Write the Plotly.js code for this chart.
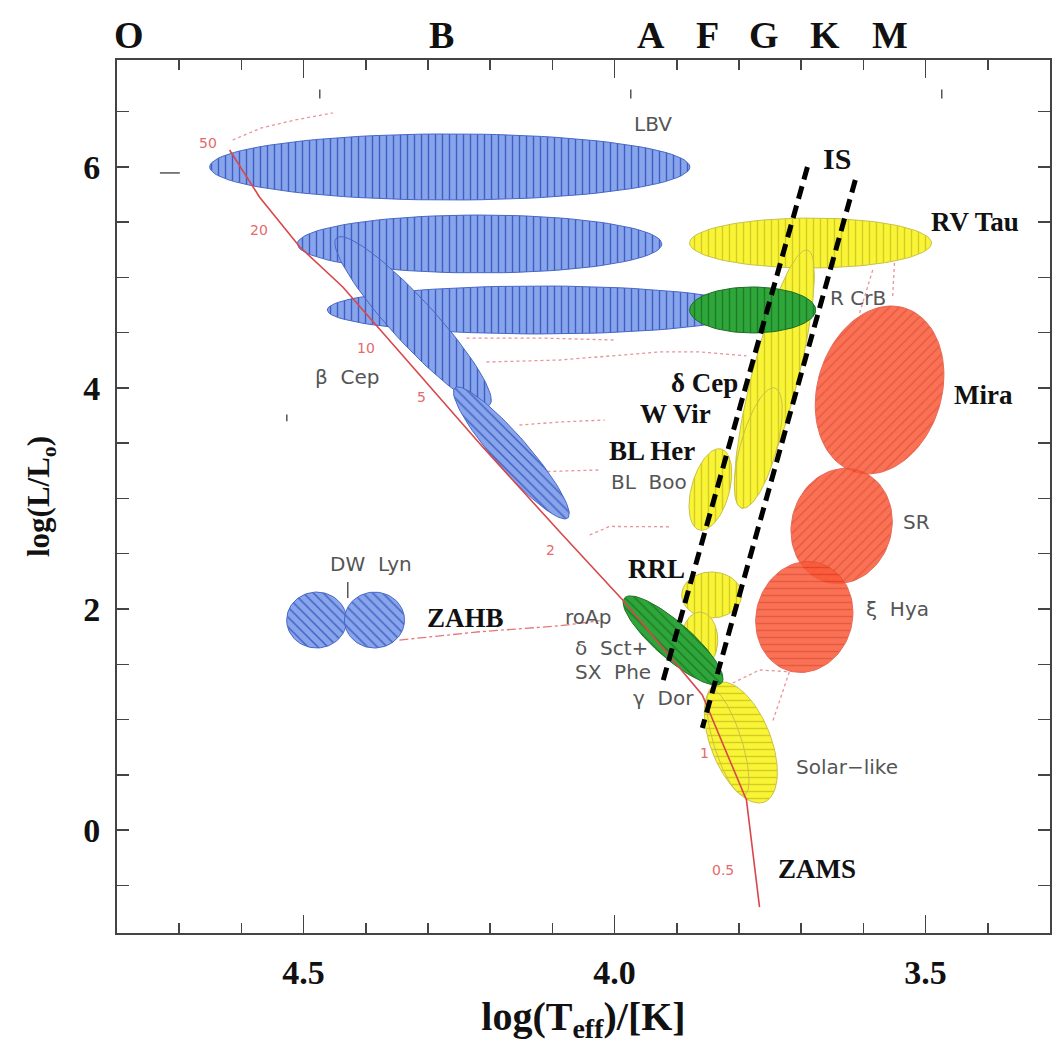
<!DOCTYPE html>
<html><head><meta charset="utf-8">
<script src="https://cdn.plot.ly/plotly-3.0.1.min.js"></script>
<style>html,body{margin:0;padding:0;background:#fff}</style>
</head><body>
<div id="chart" style="width:1064px;height:1044px"></div>
<script>
// ---------------- DATA ----------------
// Pulsating-star regions: centre (logTeff, logL) and two conjugate semi-axes in data units
const regionNames = ['LBV a','LBV b','LBV c','beta Cep','SPB','DW Lyn a','DW Lyn b','RV Tau','delta Cep','W Vir','BL Her','R CrB','RRL','delta Sct','Solar-like a','Solar-like b','roAp','Mira','SR','xi Hya'];
const regionGroup = ['blue','blue','blue','blue','blue','blue','blue','yellow','yellow','yellow','yellow','green','yellow','yellow','yellow','yellow','green','red','red','red'];
const regionT  = [4.265, 4.217, 4.121, 4.324, 4.166, 4.479, 4.386, 3.685, 3.743, 3.769, 3.846, 3.778, 3.844, 3.863, 3.797, 3.818, 3.906, 3.574, 3.635, 3.695];
const regionL  = [6.000, 5.303, 4.706, 4.602, 3.412, 1.900, 1.900, 5.312, 4.081, 3.457, 3.081, 4.706, 2.127, 1.719, 0.792, 0.792, 1.715, 3.982, 2.751, 1.928];
const regionAT = [0.386, 0.293, 0.341, -0.1230, -0.0908, 0.0482, 0.0482, 0.1945, -0.0531, -0.0265, -0.0177, 0.1013, 0.0482, 0.0289, -0.0378, -0.0265, -0.0780, -0.0402, -0.0257, -0.0241];
const regionAL = [0, 0, 0, -0.7557, -0.5882, 0, 0, 0, 1.1674, 0.543, 0.3665, 0, 0, 0, -0.5385, -0.475, -0.3846, 0.742, 0.5068, 0.4887];
const regionBT = [0, 0, 0, 0.0260, 0.0206, 0, 0, 0, -0.0359, -0.0280, -0.0294, 0, 0, 0, 0.0449, 0.0215, 0.0191, -0.0953, -0.0773, -0.0744];
const regionBL = [0.299, 0.262, 0.217, -0.1348, -0.1014, 0.253, 0.253, 0.226, -0.0516, -0.0434, -0.0452, 0.208, 0.208, 0.253, -0.0995, -0.038, -0.1222, -0.1638, -0.124, -0.1167];

// Zero-age main sequence
const zamsT = [4.619, 4.571, 4.506, 4.437, 4.212, 4.088, 3.987, 3.859, 3.788, 3.767];
const zamsL = [6.154, 5.729, 5.276, 4.914, 3.466, 2.697, 2.081, 1.222, 0.271, -0.697];

// Mass labels along the ZAMS
const massText = ['50','20','10','5','2','1','0.5'];
const massT = [4.654, 4.571, 4.399, 4.310, 4.103, 3.855, 3.826];
const massL = [6.217, 5.430, 4.362, 3.919, 2.534, 0.697, -0.362];

// Instability strip edges
const isBlueT = [3.690, 3.924];
const isBlueL = [6.000, 1.312];
const isRedT  = [3.613, 3.859];
const isRedL  = [5.882, 0.923];

// Evolutionary tracks (dotted)
const trackT = [
  [4.614, 4.568, 4.514, 4.453],
  [4.238, 4.118, 4.000],
  [4.206, 4.088, 3.928, 3.863, 3.788],
  [4.153, 4.088, 4.016],
  [4.137, 4.024],
  [4.040, 4.008, 3.912],
  [3.810, 3.767, 3.719, 3.746],
  [3.550, 3.553],
  [3.585, 3.606]
];
const trackL = [
  [6.244, 6.353, 6.425, 6.489],
  [4.452, 4.452, 4.434],
  [4.235, 4.253, 4.326, 4.326, 4.290],
  [3.665, 3.692, 3.710],
  [3.240, 3.258],
  [2.670, 2.747, 2.744],
  [1.330, 1.448, 1.432, 0.980],
  [5.131, 4.824],
  [5.068, 4.679]
];
// Zero-age horizontal branch
const zahbT = [4.346, 4.217, 4.088, 4.024];
const zahbL = [1.719, 1.794, 1.848, 1.894];

// Class labels
const boldText = ['IS','RV Tau','Mira','δ Cep','W Vir','BL Her','RRL','ZAHB','ZAMS'];
const boldT = [3.643, 3.494, 3.458, 3.799, 3.842, 3.867, 3.884, 4.305, 3.740];
const boldL = [6.081, 5.502, 3.937, 4.045, 3.765, 3.430, 2.362, 1.919, -0.353];
const boldAnchor = ['center','left','left','right','right','right','right','left','left'];

const thinText = ['LBV','β  Cep','R CrB','BL  Boo','SR','ξ  Hya','roAp','δ  Sct+','SX  Phe','γ  Dor','Solar−like','DW  Lyn'];
const thinT = [3.939, 4.431, 3.609, 3.944, 3.514, 3.545, 4.043, 4.005, 4.002, 3.921, 3.627, 4.391];
const thinL = [6.389, 4.100, 4.814, 3.149, 2.787, 2.000, 1.928, 1.647, 1.430, 1.195, 0.570, 2.407];

// Spectral classes along the top
const specText = ['O','B','A','F','G','K','M'];
const specT = [4.780, 4.278, 3.941, 3.850, 3.760, 3.662, 3.558];

// Small leftover tick marks of the inner frame
const markT = [4.474, 4.474, null, 3.974, 3.974, null, 3.474, 3.474, null, 4.527, 4.527, null, 4.731, 4.699, null, 4.429, 4.429];
const markL = [6.62, 6.70, null, 6.62, 6.70, null, 6.62, 6.70, null, 3.70, 3.76, null, 5.946, 5.946, null, 2.244, 2.100];

// ---------------- STYLE ----------------
const groupStyle = {
  blue:   {bg:'#88a4ea', fg:'#3d5ec4', line:'#4767c8', op:1},
  yellow: {bg:'#f9f536', fg:'#d4cc22', line:'#c9c04a', op:1},
  green:  {bg:'#2ea63a', fg:'#1d7a27', line:'#1f6d26', op:1},
  red:    {bg:'#fb5a38', fg:'#df3f28', line:'#e4503a', op:0.86}
};
const shapeFor = {'SPB':'\\','DW Lyn a':'\\','DW Lyn b':'\\','Solar-like a':'-','Solar-like b':'-','roAp':'\\','Mira':'/','SR':'/','xi Hya':'-'};

function ellipsePts(i){
  const xs=[], ys=[], n=96;
  for(let k=0;k<=n;k++){
    const t = 2*Math.PI*k/n, c=Math.cos(t), s=Math.sin(t);
    xs.push(regionT[i] + regionAT[i]*c + regionBT[i]*s);
    ys.push(regionL[i] + regionAL[i]*c + regionBL[i]*s);
  }
  return [xs, ys];
}

const traces = [];
// dotted evolutionary tracks
trackT.forEach((tt, j) => traces.push({x:tt, y:trackL[j], mode:'lines', type:'scatter',
  line:{color:'rgba(225,110,120,0.75)', width:1.3, dash:'dot'}, hoverinfo:'skip'}));
traces.push({x:zahbT, y:zahbL, mode:'lines', type:'scatter',
  line:{color:'rgba(225,95,95,0.85)', width:1.3, dash:'dashdot'}, hoverinfo:'skip'});

// regions
regionNames.forEach((nm, i) => {
  const g = groupStyle[regionGroup[i]];
  const [xs, ys] = ellipsePts(i);
  traces.push({x:xs, y:ys, type:'scatter', mode:'lines', fill:'toself', name:nm,
    fillcolor:g.bg, opacity:g.op,
    fillpattern:{shape: shapeFor[nm] || '|', bgcolor:g.bg, fgcolor:g.fg, size:7, solidity:0.2},
    line:{color:g.line, width:1}, hoverinfo:'skip'});
});

// ZAMS
traces.push({x:zamsT, y:zamsL, mode:'lines', type:'scatter', line:{color:'#d8474a', width:1.6}, hoverinfo:'skip'});
// marks
traces.push({x:markT, y:markL, mode:'lines', type:'scatter', line:{color:'#555', width:1.5}, hoverinfo:'skip', connectgaps:false});
// instability strip
[[isBlueT,isBlueL],[isRedT,isRedL]].forEach(p => traces.push({x:p[0], y:p[1], mode:'lines', type:'scatter',
  line:{color:'#000', width:5, dash:'13px,7px'}, hoverinfo:'skip'}));

const serif = 'Liberation Serif, Times New Roman, serif';
const sans = 'DejaVu Sans, sans-serif';
const annotations = [];
boldText.forEach((t,i)=>annotations.push({x:boldT[i], y:boldL[i], xref:'x', yref:'y', text:t, showarrow:false,
  xanchor:boldAnchor[i], yanchor:'middle', font:{family:serif, size: t==='IS'?30:27, color:'#111', weight:'bold'}}));
thinText.forEach((t,i)=>annotations.push({x:thinT[i], y:thinL[i], xref:'x', yref:'y', text:t, showarrow:false,
  xanchor:'center', yanchor:'middle', font:{family:sans, size:20, color:'#555'}}));
massText.forEach((t,i)=>annotations.push({x:massT[i], y:massL[i], xref:'x', yref:'y', text:t, showarrow:false,
  xanchor:'center', yanchor:'middle', font:{family:sans, size:14, color:'#e36b6b'}}));
specText.forEach((t,i)=>annotations.push({x:specT[i], y:1.0286, xref:'x', yref:'paper', text:t, showarrow:false,
  xanchor:'center', yanchor:'middle', font:{family:serif, size:38, color:'#111', weight:'bold'}}));

const layout = {
  width:1064, height:1044,
  margin:{l:117, r:14, t:60, b:111},
  paper_bgcolor:'#fff', plot_bgcolor:'#fff',
  showlegend:false, hovermode:false,
  xaxis:{range:[4.8,3.3], showgrid:false, zeroline:false,
    tick0:3.5, dtick:0.5, tickformat:'.1f', ticks:'inside', ticklen:18, tickwidth:1.5, tickcolor:'#444',
    minor:{dtick:0.1, ticks:'inside', ticklen:10, tickwidth:1.5, tickcolor:'#444', showgrid:false},
    showline:true, linecolor:'#444', linewidth:2, mirror:'allticks',
    ticklabelstandoff:8,
    tickfont:{family:serif, size:34, color:'#111', weight:'bold'},
    title:{text:'log(T<sub>eff</sub>)/[K]', standoff:12, font:{family:serif, size:40, color:'#111', weight:'bold'}}},
  yaxis:{range:[-0.932,6.968], showgrid:false, zeroline:false,
    tick0:0, dtick:2, tickformat:'d', ticks:'inside', ticklen:12, tickwidth:1.5, tickcolor:'#444',
    minor:{dtick:0.5, ticks:'inside', ticklen:12, tickwidth:1.5, tickcolor:'#444', showgrid:false},
    showline:true, linecolor:'#444', linewidth:2, mirror:'allticks',
    ticklabelstandoff:8,
    tickfont:{family:serif, size:34, color:'#111', weight:'bold'},
    title:{text:'log(L/L<sub>o</sub>)', standoff:24, font:{family:serif, size:31, color:'#111', weight:'bold'}}},
  annotations:annotations
};
Plotly.newPlot('chart', traces, layout, {displayModeBar:false, staticPlot:true});
</script>
</body></html>
